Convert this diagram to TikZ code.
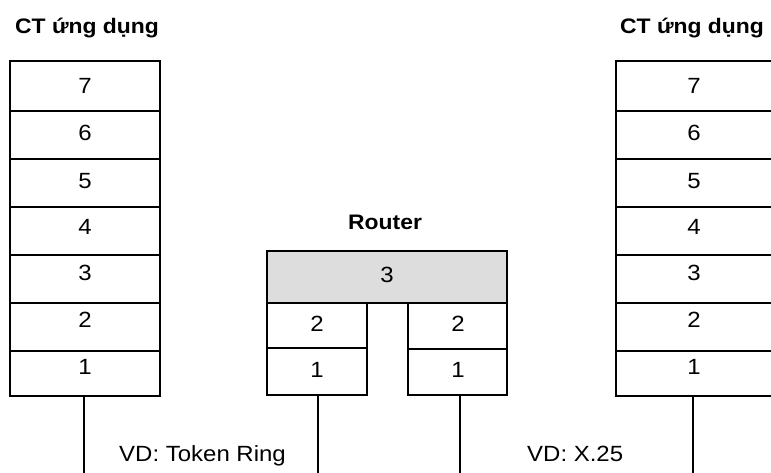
\documentclass[tikz,border=0pt]{standalone}
\usepackage{fontspec}
\setmainfont{Liberation Sans}[FakeStretch=1.09]
\definecolor{routergray}{RGB}{221,221,221}
\begin{document}
\begin{tikzpicture}[x=1pt,y=-1pt,
  cell/.style={draw=black,line width=1.4pt,rectangle,inner sep=0pt,outer sep=0pt},
  num/.style={inner sep=0pt,font=\fontsize{22}{26}\selectfont},
  title/.style={inner sep=0pt,anchor=base west,font=\fontsize{21}{25}\selectfont\bfseries},
  note/.style={inner sep=0pt,anchor=base west,font=\fontsize{22}{26}\selectfont},
  wire/.style={line width=1.5pt}]
\useasboundingbox (0,0) rectangle (771,472);
\clip (0,0) rectangle (771,472);
% titles
\node[title] (tl) at (15,33) {CT ứng dụng};
\node[title] (tr) at (620,33) {CT ứng dụng};
\node[title] (tru) at (348,229) {Router};
% left stack
\foreach \n/\a/\b/\t in {7/61/111/86,6/111/159/133,5/159/207/181,4/207/255/227,3/255/303/273,2/303/351/320,1/351/396/367}{
  \node[cell,minimum width=150pt,minimum height={(\b-\a)*1pt}] (L\n) at (85,{(\a+\b)/2}) {};
  \node[num] (Lt\n) at (85,\t) {\n};
}
% right stack
\foreach \n/\a/\b/\t in {7/61/111/86,6/111/159/133,5/159/207/181,4/207/255/227,3/255/303/273,2/303/351/320,1/351/396/367}{
  \node[cell,minimum width=157pt,minimum height={(\b-\a)*1pt}] (R\n) at (694.5,{(\a+\b)/2}) {};
  \node[num] (Rt\n) at (694,\t) {\n};
}
% router
\node[cell,fill=routergray,minimum width=240pt,minimum height=52pt] (G3) at (387,277) {};
\node[num] (G3t) at (387,275) {3};
\node[cell,minimum width=100pt,minimum height=45pt] (A2) at (317,325.5) {};
\node[num] (A2t) at (317,324) {2};
\node[cell,minimum width=100pt,minimum height=47pt] (A1) at (317,371.5) {};
\node[num] (A1t) at (317,370) {1};
\node[cell,minimum width=99pt,minimum height=46pt] (B2) at (457.5,326) {};
\node[num] (B2t) at (458,324) {2};
\node[cell,minimum width=99pt,minimum height=46pt] (B1) at (457.5,372) {};
\node[num] (B1t) at (458,370) {1};
% wires
\coordinate (Le) at (84,480);
\coordinate (Ae) at (318,480);
\coordinate (Be) at (460,480);
\coordinate (Re) at (693,480);
\draw[wire] (L1.south -| Le) -- (Le);
\draw[wire] (A1.south -| Ae) -- (Ae);
\draw[wire] (B1.south -| Be) -- (Be);
\draw[wire] (R1.south -| Re) -- (Re);
% notes
\node[note] (n1) at (119,461.5) {VD: Token Ring};
\node[note] (n2) at (527,461.5) {VD: X.25};
\end{tikzpicture}
\end{document}
